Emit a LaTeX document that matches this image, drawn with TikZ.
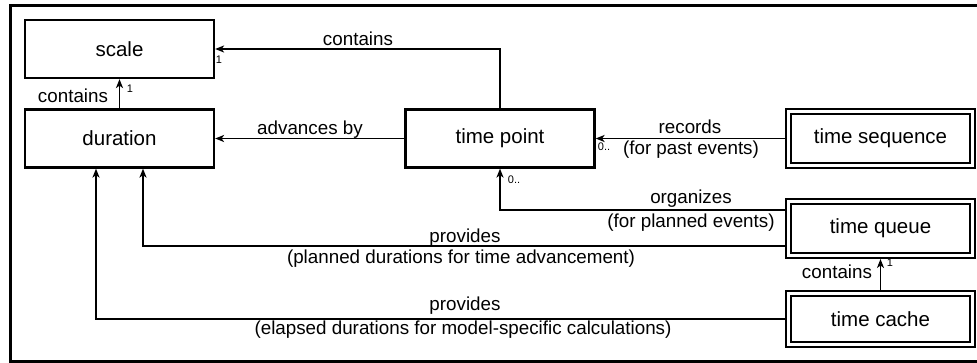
\documentclass[tikz,border=0pt]{standalone}
\usepackage{fontspec}
\setmainfont{Liberation Sans}
\usetikzlibrary{arrows.meta}
\begin{document}
\begin{tikzpicture}[x=1pt,y=-1pt,
  box/.style={draw, line width=2.2pt, minimum width=189pt, minimum height=58pt, inner sep=0pt, font=\fontsize{20.5}{24}\selectfont},
  dbox/.style={draw, line width=2pt, double, double distance=3pt, minimum width=184pt, minimum height=54pt, inner sep=0pt, outer sep=3.5pt, font=\fontsize{20.5}{24}\selectfont},
  lbl/.style={font=\fontsize{18.8}{22}\selectfont, inner sep=0pt},
  mult/.style={font=\fontsize{11}{13}\selectfont, inner sep=0pt},
  arr/.style={line width=1.5pt, -{Stealth[length=9pt,width=7pt,inset=2.5pt]}}
]
\useasboundingbox (0,0) rectangle (977,363);
\fill[white] (0,0) rectangle (977,363);
\draw[line width=3pt] (10,6) rectangle (995,361);

\node[box] (scale) at (119.5,49) {scale};
\node[box] (dur) at (119.5,138.5) {duration};
\node[box] (tp) at (500,138.5) {time point};
\node[dbox] (ts) at (880.5,138.5) {time sequence};
\node[dbox] (tq) at (880.5,228.5) {time queue};
\node[dbox, minimum height=51.8pt] (tc) at (880.5,319) {time cache};

\draw[arr] (tp.north) |- (scale.east);
\draw[arr] (dur.north) -- (scale.south);
\draw[arr] (tp.west) -- (dur.east);
\draw[arr] (ts.west) -- (tp.east);
\draw[arr] ([yshift=18.5pt]tq.west) -| (tp.south);
\draw[arr] ([yshift=-17.5pt]tq.west) -| ([xshift=23.5pt]dur.south);
\draw[arr] (tc.west) -| ([xshift=-23.5pt]dur.south);
\draw[arr] (tc.north) -- (tq.south);

\node[lbl] (l1) at (358,38.5) {contains};
\node[mult] (m1) at (219,60) {1};
\node[lbl] (l2) at (73,96) {contains};
\node[mult] (m2) at (130,89) {1};
\node[lbl] (l3) at (310,129.5) {advances by};
\node[lbl] (l4) at (690,127) {records};
\node[lbl] (l5) at (691,150) {(for past events)};
\node[mult] (m3) at (604,147) {0..};
\node[mult] (m4) at (514,180) {0..};
\node[lbl] (l6) at (691,199) {organizes};
\node[lbl] (l7) at (691,223) {(for planned events)};
\node[lbl] (l8) at (465,238) {provides};
\node[lbl] (l9) at (461,259) {(planned durations for time advancement)};
\node[lbl] (l10) at (465,306) {provides};
\node[lbl] (l11) at (463,330) {(elapsed durations for model-specific calculations)};
\node[lbl] (l12) at (837,272) {contains};
\node[mult] (m5) at (890,263) {1};
\end{tikzpicture}
\end{document}
